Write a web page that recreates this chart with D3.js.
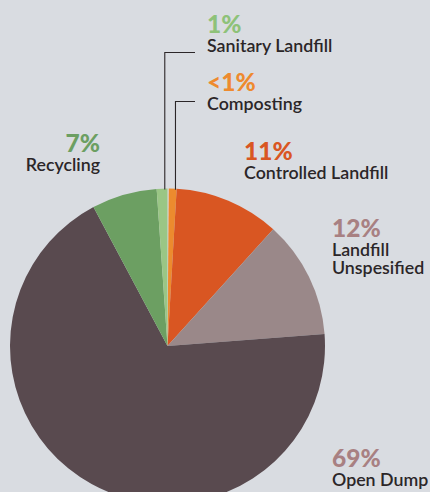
<!DOCTYPE html>
<html>
<head>
<meta charset="utf-8">
<script src="https://cdn.jsdelivr.net/npm/d3@7"></script>
<style>
  html, body { margin: 0; padding: 0; background: #d9dce1; }
  svg { display: block; }
  .pct { font-family: Lato, sans-serif; font-weight: 900; font-size: 24.5px; }
  .lbl { font-family: Lato, sans-serif; font-weight: 600; font-size: 17.8px; fill: #2b2628; }
</style>
</head>
<body>
<svg id="chart"></svg>
<script>
const width = 430
const height = 492

// clockwise from 12 o'clock
const categories = ['Composting', 'Controlled Landfill', 'Landfill Unspesified', 'Open Dump', 'Recycling', 'Sanitary Landfill']
const values = [0.8, 10.8, 12.1, 68.5, 6.7, 1.1]
const pctLabels = ['<1%', '11%', '12%', '69%', '7%', '1%']
const sliceColors = ['#ec8b2e', '#d95622', '#9a8889', '#594a4f', '#6c9f62', '#9ac685']
const textColors = ['#ee8a2e', '#d95622', '#a88082', '#a88082', '#6c9f62', '#8ec279']

const cx = 167.5
const cy = 346
const R = 157.5

const svg = d3.select('#chart').attr('width', width).attr('height', height)

svg.append('rect').attr('width', width).attr('height', height).attr('fill', '#d9dce1')

const data = categories.map((c, i) => ({ name: c, value: values[i], pct: pctLabels[i], color: sliceColors[i], tcolor: textColors[i] }))

const pie = d3.pie().sort(null).value(d => d.value).startAngle(0.008)
const arc = d3.arc().innerRadius(0).outerRadius(R)
const arcs = pie(data)

const g = svg.append('g').attr('transform', `translate(${cx},${cy})`)
g.selectAll('path').data(arcs).enter()
  .append('path')
  .attr('d', arc)
  .attr('fill', d => d.data.color)

// label layout: x, percent baseline, anchor, text lines, leader elbow y
const layout = {
  'Sanitary Landfill':   { x: 207, y: 33,  anchor: 'start', lines: ['Sanitary Landfill'], leader: 52.5, at: 0.75 },
  'Composting':          { x: 207, y: 91,  anchor: 'start', lines: ['Composting'], leader: 101.5, at: 0.85 },
  'Recycling':           { x: 100, y: 152, anchor: 'end',   lines: ['Recycling'] },
  'Controlled Landfill': { x: 244, y: 160, anchor: 'start', lines: ['Controlled Landfill'] },
  'Landfill Unspesified':{ x: 332, y: 237, anchor: 'start', lines: ['Landfill', 'Unspesified'] },
  'Open Dump':           { x: 332, y: 467, anchor: 'start', lines: ['Open Dump'] }
}

arcs.forEach(a => {
  const L = layout[a.data.name]
  svg.append('text')
    .attr('class', 'pct')
    .attr('x', L.x).attr('y', L.y)
    .attr('text-anchor', L.anchor)
    .attr('fill', a.data.tcolor)
    .text(a.data.pct)
  L.lines.forEach((s, k) => {
    svg.append('text')
      .attr('class', 'lbl')
      .attr('x', L.x).attr('y', L.y + 18.5 + k * 18.5)
      .attr('text-anchor', L.anchor)
      .text(s)
  })
  if (L.leader) {
    const ang = a.startAngle + (a.endAngle - a.startAngle) * L.at
    const px = cx + R * Math.sin(ang)
    const py = cy - R * Math.cos(ang)
    svg.append('path')
      .attr('d', d3.line()([[L.x - 12, L.leader], [px, L.leader], [px, py + 1]]))
      .attr('fill', 'none')
      .attr('stroke', '#2b2628')
      .attr('stroke-width', 1.1)
  }
})
</script>
</body>
</html>
